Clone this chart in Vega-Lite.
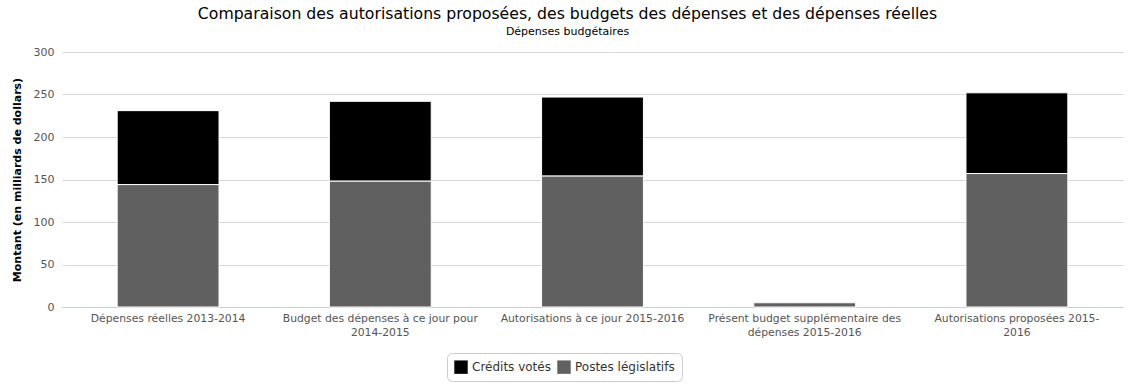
{
  "$schema": "https://vega.github.io/schema/vega-lite/v6.json",
  "width": 1061,
  "height": 255,
  "autosize": {"type": "none"},
  "padding": {"left": 62, "top": 52, "right": 12, "bottom": 83},
  "background": "white",
  "title": {
    "text": "Comparaison des autorisations proposées, des budgets des dépenses et des dépenses réelles",
    "subtitle": "Dépenses budgétaires",
    "anchor": "middle",
    "dx": -25,
    "offset": 8,
    "font": "DejaVu Sans",
    "fontSize": 15.7,
    "fontWeight": "normal",
    "color": "#000000",
    "subtitleFont": "DejaVu Sans",
    "subtitleFontSize": 11,
    "subtitleColor": "#000000",
    "subtitlePadding": 3
  },
  "data": {
    "values": [
      {"categorie": "Dépenses réelles 2013-2014", "type": "Crédits votés", "montant": 87},
      {"categorie": "Dépenses réelles 2013-2014", "type": "Postes législatifs", "montant": 144},
      {"categorie": "Budget des dépenses à ce jour pour|2014-2015", "type": "Crédits votés", "montant": 94},
      {"categorie": "Budget des dépenses à ce jour pour|2014-2015", "type": "Postes législatifs", "montant": 148},
      {"categorie": "Autorisations à ce jour 2015-2016", "type": "Crédits votés", "montant": 93},
      {"categorie": "Autorisations à ce jour 2015-2016", "type": "Postes législatifs", "montant": 154},
      {"categorie": "Présent budget supplémentaire des|dépenses 2015-2016", "type": "Crédits votés", "montant": 1},
      {"categorie": "Présent budget supplémentaire des|dépenses 2015-2016", "type": "Postes législatifs", "montant": 5},
      {"categorie": "Autorisations proposées 2015-|2016", "type": "Crédits votés", "montant": 95},
      {"categorie": "Autorisations proposées 2015-|2016", "type": "Postes législatifs", "montant": 157}
    ]
  },
  "mark": {"type": "bar", "width": {"band": 0.48}, "stroke": "#ffffff", "strokeWidth": 1},
  "encoding": {
    "x": {
      "field": "categorie",
      "type": "nominal",
      "sort": null,
      "scale": {"paddingInner": 0, "paddingOuter": 0},
      "axis": {
        "title": null,
        "labelAngle": 0,
        "labelExpr": "split(datum.label, '|')",
        "labelFont": "DejaVu Sans",
        "labelFontSize": 10.8,
        "labelColor": "#555555",
        "labelLineHeight": 14,
        "labelPadding": 5,
        "labelLimit": 0,
        "ticks": false,
        "domainColor": "#c0d0e0",
        "grid": false
      }
    },
    "y": {
      "field": "montant",
      "type": "quantitative",
      "aggregate": "sum",
      "scale": {"domain": [0, 300]},
      "axis": {
        "title": "Montant (en milliards de dollars)",
        "titleFont": "DejaVu Sans",
        "titleFontSize": 11,
        "titleFontWeight": "bold",
        "titleColor": "#000000",
        "titlePadding": 11,
        "values": [0, 50, 100, 150, 200, 250, 300],
        "labelFont": "DejaVu Sans",
        "labelFontSize": 11,
        "labelColor": "#555555",
        "labelPadding": 8,
        "ticks": false,
        "domain": false,
        "gridColor": "#d8d8d8"
      }
    },
    "color": {
      "field": "type",
      "type": "nominal",
      "scale": {"domain": ["Crédits votés", "Postes législatifs"], "range": ["#000000", "#606060"]},
      "legend": {
        "title": null,
        "orient": "none",
        "direction": "horizontal",
        "legendX": 385,
        "legendY": 301,
        "symbolType": "square",
        "symbolSize": 180,
        "symbolStrokeWidth": 0,
        "labelFont": "DejaVu Sans",
        "labelFontSize": 12,
        "labelColor": "#333333",
        "columnPadding": 6,
        "labelOffset": 4,
        "padding": 7,
        "strokeColor": "#cccccc",
        "cornerRadius": 5
      }
    },
    "order": {"field": "type", "sort": "descending"}
  },
  "config": {
    "view": {"stroke": null}
  }
}
